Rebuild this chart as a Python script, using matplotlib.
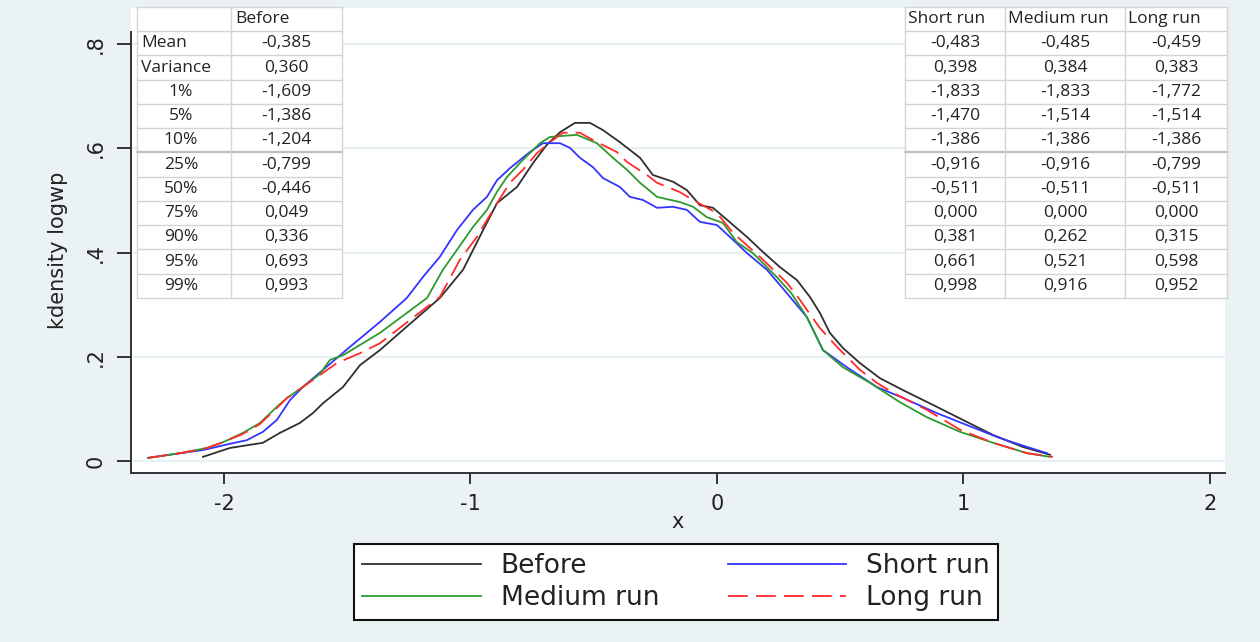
import matplotlib
matplotlib.use("Agg")
import matplotlib.pyplot as plt

# ---------------- data ----------------
before_x = [-2.085, -1.976, -1.842, -1.773, -1.692, -1.639, -1.598, -1.517, -1.448, -1.367,
            -1.258, -1.124, -1.030, -0.949, -0.892, -0.811, -0.746, -0.690, -0.637, -0.576,
            -0.515, -0.462, -0.394, -0.353, -0.312, -0.260, -0.178, -0.122, -0.069, -0.016,
            0.041, 0.122, 0.187, 0.256, 0.325, 0.377, 0.418, 0.458, 0.511, 0.580, 0.661,
            0.755, 0.892, 1.014, 1.120, 1.241, 1.351]
before_y = [0.008, 0.025, 0.035, 0.054, 0.073, 0.092, 0.111, 0.142, 0.184, 0.213,
            0.258, 0.313, 0.367, 0.443, 0.495, 0.526, 0.572, 0.607, 0.631, 0.649,
            0.649, 0.635, 0.612, 0.597, 0.582, 0.549, 0.536, 0.520, 0.491, 0.486,
            0.463, 0.430, 0.401, 0.372, 0.347, 0.315, 0.284, 0.246, 0.217, 0.188, 0.159,
            0.136, 0.104, 0.075, 0.050, 0.027, 0.012]

short_x = [-2.308, -2.178, -2.085, -1.976, -1.907, -1.842, -1.785, -1.732, -1.680, -1.598,
           -1.489, -1.367, -1.258, -1.193, -1.124, -1.055, -0.990, -0.933, -0.892, -0.840,
           -0.759, -0.706, -0.637, -0.596, -0.556, -0.503, -0.462, -0.394, -0.353, -0.300,
           -0.243, -0.178, -0.122, -0.069, 0.000, 0.053, 0.122, 0.203, 0.284, 0.365, 0.430,
           0.527, 0.649, 0.755, 0.892, 1.014, 1.148, 1.258, 1.339]
short_y = [0.006, 0.015, 0.021, 0.033, 0.040, 0.056, 0.079, 0.117, 0.142, 0.175,
           0.219, 0.267, 0.313, 0.353, 0.392, 0.443, 0.482, 0.507, 0.539, 0.562,
           0.593, 0.610, 0.610, 0.601, 0.582, 0.564, 0.543, 0.526, 0.507, 0.501,
           0.486, 0.488, 0.482, 0.459, 0.453, 0.430, 0.399, 0.367, 0.322, 0.276, 0.213,
           0.180, 0.142, 0.121, 0.092, 0.069, 0.044, 0.027, 0.015]

medium_x = [-2.308, -2.178, -2.069, -2.004, -1.923, -1.854, -1.785, -1.744, -1.680, -1.611,
            -1.570, -1.517, -1.367, -1.176, -1.112, -1.055, -0.990, -0.933, -0.892, -0.852,
            -0.787, -0.718, -0.677, -0.625, -0.568, -0.487, -0.422, -0.365, -0.312, -0.243,
            -0.150, -0.097, -0.041, 0.024, 0.081, 0.146, 0.243, 0.302, 0.365, 0.430, 0.511,
            0.621, 0.742, 0.852, 0.986, 1.120, 1.258, 1.351]
medium_y = [0.006, 0.015, 0.025, 0.036, 0.054, 0.073, 0.104, 0.121, 0.142, 0.167,
            0.194, 0.203, 0.246, 0.313, 0.367, 0.405, 0.449, 0.482, 0.517, 0.545,
            0.578, 0.610, 0.622, 0.624, 0.626, 0.610, 0.582, 0.559, 0.534, 0.507,
            0.497, 0.488, 0.468, 0.457, 0.420, 0.399, 0.353, 0.322, 0.276, 0.213, 0.180,
            0.150, 0.113, 0.084, 0.056, 0.035, 0.015, 0.008]

long_x = [-2.308, -2.178, -2.069, -2.004, -1.923, -1.854, -1.785, -1.744, -1.680, -1.611,
          -1.542, -1.448, -1.367, -1.124, -1.043, -0.974, -0.892, -0.840, -0.787, -0.730,
          -0.677, -0.625, -0.556, -0.503, -0.406, -0.365, -0.284, -0.243, -0.150, -0.097,
          0.000, 0.065, 0.174, 0.284, 0.337, 0.365, 0.418, 0.487, 0.580, 0.649, 0.714,
          0.852, 0.986, 1.120, 1.258, 1.363]
long_y = [0.006, 0.015, 0.025, 0.036, 0.052, 0.071, 0.102, 0.121, 0.142, 0.165,
          0.188, 0.207, 0.226, 0.315, 0.386, 0.430, 0.495, 0.534, 0.559, 0.591,
          0.612, 0.630, 0.630, 0.616, 0.593, 0.574, 0.549, 0.534, 0.516, 0.501,
          0.476, 0.438, 0.392, 0.342, 0.309, 0.290, 0.255, 0.219, 0.175, 0.150, 0.131,
          0.098, 0.060, 0.035, 0.015, 0.008]

series_names = ["Before", "Short run", "Medium run", "Long run"]

x_ticks = [-2, -1, 0, 1, 2]
x_tick_labels = ["-2", "-1", "0", "1", "2"]
y_ticks = [0, 0.2, 0.4, 0.6, 0.8]
y_tick_labels = ["0", ".2", ".4", ".6", ".8"]

stat_labels = ["Mean", "Variance", "1%", "5%", "10%", "25%", "50%", "75%", "90%", "95%", "99%"]
before_vals = ["-0,385", "0,360", "-1,609", "-1,386", "-1,204", "-0,799", "-0,446",
               "0,049", "0,336", "0,693", "0,993"]
short_vals = ["-0,483", "0,398", "-1,833", "-1,470", "-1,386", "-0,916", "-0,511",
              "0,000", "0,381", "0,661", "0,998"]
medium_vals = ["-0,485", "0,384", "-1,833", "-1,514", "-1,386", "-0,916", "-0,511",
               "0,000", "0,262", "0,521", "0,916"]
long_vals = ["-0,459", "0,383", "-1,772", "-1,514", "-1,386", "-0,799", "-0,511",
             "0,000", "0,315", "0,598", "0,952"]

# ---------------- figure ----------------
W, H = 1260, 642
BG = "#eaf2f3"
fig = plt.figure(figsize=(W / 100, H / 100), dpi=100, facecolor=BG)
plt.rcParams["font.family"] = ["DejaVu Sans"]


def fx(px):
    return px / W


def fy(py):
    return 1 - py / H


ax = fig.add_axes([fx(131), fy(473), fx(1225) - fx(131), fy(8) - fy(473)])
ax.set_facecolor("white")
ax.set_xlim(-2.377, 2.061)
ax.set_ylim(-0.023, 0.8695)

for yv in y_ticks:
    ax.axhline(yv, color="#e6eff1", lw=1.6, zorder=0)

lw = 1.3
l_before, = ax.plot(before_x, before_y, color="#2f2f2f", lw=lw, zorder=3)
l_short, = ax.plot(short_x, short_y, color="#3434ff", lw=lw, zorder=3)
l_medium, = ax.plot(medium_x, medium_y, color="#2e9a2e", lw=lw, zorder=3)
l_long, = ax.plot(long_x, long_y, color="#ff2b2b", lw=lw, zorder=4)
l_long.set_dashes([11, 4.5])

for s in ["top", "right"]:
    ax.spines[s].set_visible(False)
for s in ["left", "bottom"]:
    ax.spines[s].set_linewidth(1.4)
    ax.spines[s].set_color("#333333")
ax.spines["left"].set_bounds(-0.023, 0.823)

ax.set_xticks(x_ticks)
ax.set_xticklabels(x_tick_labels)
ax.set_yticks(y_ticks)
ax.set_yticklabels(y_tick_labels)
ax.tick_params(axis="x", length=8, width=1.4, color="#333333", labelsize=15, pad=7,
               labelcolor="#222222")
ax.tick_params(axis="y", length=10, width=1.4, color="#333333", labelsize=15, pad=8,
               labelrotation=90, labelcolor="#222222")
for t in ax.get_yticklabels():
    t.set_va("center")

ax.set_xlabel("x", fontsize=15, color="#222222", va="center")
ax.xaxis.set_label_coords(0.5, (473 - 522) / (473 - 8))
ax.set_ylabel("kdensity logwp", fontsize=15, color="#222222", va="center")
ax.yaxis.set_label_coords((58 - 131) / (1225 - 131), (473 - 250) / (473 - 8))

leg = fig.legend([l_before, l_medium, l_short, l_long],
                 [series_names[0], series_names[2], series_names[1], series_names[3]],
                 ncol=2, loc="center", bbox_to_anchor=(fx(676), fy(582)),
                 fontsize=19, handlelength=4.5, handletextpad=0.75, columnspacing=2.6,
                 labelspacing=0.24, borderpad=0.32, fancybox=False, framealpha=1,
                 edgecolor="#111111", facecolor="white")
leg.get_frame().set_linewidth(1.5)
for t in leg.get_texts():
    t.set_color("#222222")

# ---------------- tables ----------------
TFONT = ["Open Sans", "DejaVu Sans"]
TSIZE = 12.5
TCOL = "#222222"
GRID = "#d4d4d4"
row_top, row_bot = 7, 298
nrows = len(stat_labels) + 1
rh = (row_bot - row_top) / nrows


def table_axes(x0, x1):
    tax = fig.add_axes([fx(x0), fy(row_bot), fx(x1) - fx(x0), fy(row_top) - fy(row_bot)])
    tax.set_xlim(x0, x1)
    tax.set_ylim(row_bot, row_top)
    tax.axis("off")
    tax.add_patch(plt.Rectangle((x0, row_top), x1 - x0, row_bot - row_top,
                                facecolor="white", edgecolor="none", zorder=0))
    return tax


def draw_grid(tax, col_edges):
    x0, x1 = col_edges[0], col_edges[-1]
    for i in range(nrows + 1):
        yv = row_top + i * rh
        c, w = (GRID, 1.0)
        if i == 6:
            c, w = ("#bdbdbd", 1.6)
        tax.plot([x0, x1], [yv, yv], color=c, lw=w, zorder=1, clip_on=False)
    for xe in col_edges:
        tax.plot([xe, xe], [row_top, row_bot], color=GRID, lw=1.0, zorder=1, clip_on=False)


# left table
lcols = [137, 231, 342]
lax = table_axes(lcols[0], lcols[-1])
draw_grid(lax, lcols)
lax.text(lcols[1] + 4, row_top + rh / 2, series_names[0], ha="left", va="center",
         family=TFONT, fontsize=TSIZE, color=TCOL)
for i, (lab, val) in enumerate(zip(stat_labels, before_vals)):
    yc = row_top + (i + 1.5) * rh
    if i < 2:
        lax.text(lcols[0] + 4, yc, lab, ha="left", va="center", family=TFONT,
                 fontsize=TSIZE, color=TCOL)
    else:
        lax.text((lcols[0] + lcols[1]) / 2 - 3, yc, lab, ha="center", va="center",
                 family=TFONT, fontsize=TSIZE, color=TCOL)
    lax.text((lcols[1] + lcols[2]) / 2, yc, val, ha="center", va="center",
             family=TFONT, fontsize=TSIZE, color=TCOL)

# right table
rcols = [905, 1005, 1125, 1227]
rax = table_axes(rcols[0], rcols[-1])
draw_grid(rax, rcols)
for j, (name, vals) in enumerate(zip(series_names[1:], [short_vals, medium_vals, long_vals])):
    rax.text(rcols[j] + 3, row_top + rh / 2, name, ha="left", va="center",
             family=TFONT, fontsize=TSIZE, color=TCOL)
    for i, val in enumerate(vals):
        yc = row_top + (i + 1.5) * rh
        rax.text((rcols[j] + rcols[j + 1]) / 2, yc, val, ha="center", va="center",
                 family=TFONT, fontsize=TSIZE, color=TCOL)

fig.savefig("out.png", dpi=100, facecolor=BG)
